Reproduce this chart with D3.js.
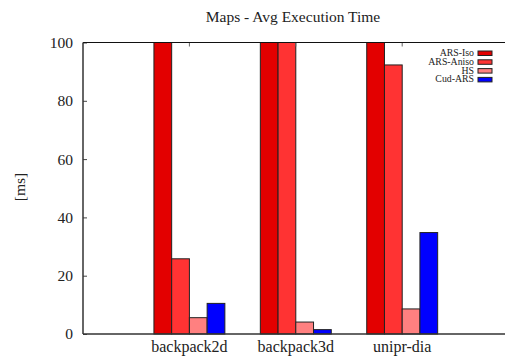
<!DOCTYPE html>
<html>
<head>
<meta charset="utf-8">
<script src="https://cdn.jsdelivr.net/npm/d3@7"></script>
<style>
    body { margin: 0; background: #fff; }
    svg text { font-family: 'Liberation Serif', 'Times New Roman', serif; fill: #222; }
</style>
</head>
<body>
<div id="chart"></div>
<script>

var categories = ['backpack2d', 'backpack3d', 'unipr-dia'];
var series = ['ARS-Iso', 'ARS-Aniso', 'HS', 'Cud-ARS'];
// values above 100 run off the top of the plot
var ars_iso   = [140, 160, 150];
var ars_aniso = [25.8, 130, 92.3];
var hs        = [5.6, 4.1, 8.6];
var cud_ars   = [10.5, 1.5, 34.8];
var y_ticks = [0, 20, 40, 60, 80, 100];

var colours = ['#e30000', '#ff3333', '#ff8080', '#0000ff'];
var all_values = [ars_iso, ars_aniso, hs, cud_ars];

var width = 505;
var height = 361;
var padding = {top: 42.5, bottom: 27, left: 83, right: 0};

var x_scale = d3.scaleLinear()
    .domain([-1, 3])
    .range([padding.left, padding.left + 4 * 106.4]);
var y_scale = d3.scaleLinear()
    .domain([0, 100])
    .range([height - padding.bottom, padding.top])
    .clamp(true);

var box_width = 1 / 6;

var svg = d3.select('#chart')
    .append('svg')
    .attr('width', width)
    .attr('height', height);

var rows = [];
categories.forEach(function(c, i) {
    series.forEach(function(s, j) {
        rows.push({cat: i, ser: j, value: all_values[j][i]});
    });
});

svg.selectAll('rect.bar')
    .data(rows)
    .enter()
    .append('rect')
    .attr('class', 'bar')
    .attr('x', function(d){ return x_scale(d.cat + (d.ser - 2) * box_width); })
    .attr('width', function(d){ return x_scale(box_width) - x_scale(0); })
    .attr('y', function(d){ return y_scale(d.value); })
    .attr('height', function(d){ return y_scale(0) - y_scale(d.value); })
    .attr('fill', function(d){ return colours[d.ser]; })
    .attr('stroke', '#222')
    .attr('stroke-width', 1);

// y axis, ticks pointing inward
var y_axis = d3.axisLeft(y_scale)
    .tickValues(y_ticks)
    .tickSize(-4)
    .tickPadding(10);

var gy = svg.append('g')
    .attr('transform', 'translate(' + padding.left + ',0)')
    .call(y_axis);
gy.select('.domain').remove();
gy.selectAll('line').attr('stroke', '#444');
gy.selectAll('text')
    .attr('font-size', '15.5px')
    .attr('font-family', null)
    .attr('fill', '#222');

// top mirror ticks
svg.selectAll('line.toptick')
    .data(categories)
    .enter()
    .append('line')
    .attr('class', 'toptick')
    .attr('x1', function(d, i){ return x_scale(i); })
    .attr('x2', function(d, i){ return x_scale(i); })
    .attr('y1', padding.top)
    .attr('y2', padding.top + 4)
    .attr('stroke', '#666');

// frame lines
svg.append('line')
    .attr('x1', padding.left).attr('x2', width)
    .attr('y1', padding.top).attr('y2', padding.top)
    .attr('stroke', '#111').attr('stroke-width', 1);
svg.append('line')
    .attr('x1', padding.left).attr('x2', width)
    .attr('y1', y_scale(0)).attr('y2', y_scale(0))
    .attr('stroke', '#333').attr('stroke-width', 1.5);
svg.append('line')
    .attr('x1', padding.left).attr('x2', padding.left)
    .attr('y1', padding.top).attr('y2', y_scale(0))
    .attr('stroke', '#333').attr('stroke-width', 1.5);

// category labels
svg.selectAll('text.xlabel')
    .data(categories)
    .enter()
    .append('text')
    .attr('class', 'xlabel')
    .attr('x', function(d, i){ return x_scale(i); })
    .attr('y', 352)
    .attr('text-anchor', 'middle')
    .attr('font-size', '16px')
    .text(function(d){ return d; });

svg.append('text')
    .attr('x', 293)
    .attr('y', 22)
    .attr('text-anchor', 'middle')
    .attr('font-size', '15.5px')
    .text('Maps - Avg Execution Time');

svg.append('text')
    .attr('transform', 'translate(25,187) rotate(-90)')
    .attr('text-anchor', 'middle')
    .attr('font-size', '15.5px')
    .text('[ms]');

// legend
var legend = svg.selectAll('g.legend')
    .data(series)
    .enter()
    .append('g')
    .attr('class', 'legend')
    .attr('transform', function(d, i){ return 'translate(0,' + (53 + i * 8.8) + ')'; });

legend.append('text')
    .attr('x', 474)
    .attr('y', 3)
    .attr('text-anchor', 'end')
    .attr('font-size', '9.8px')
    .text(function(d){ return d; });

legend.append('rect')
    .attr('x', 478)
    .attr('y', -2)
    .attr('width', 14)
    .attr('height', 4.5)
    .attr('fill', function(d, i){ return colours[i]; })
    .attr('stroke', '#222')
    .attr('stroke-width', 1);

</script>
</body>
</html>
